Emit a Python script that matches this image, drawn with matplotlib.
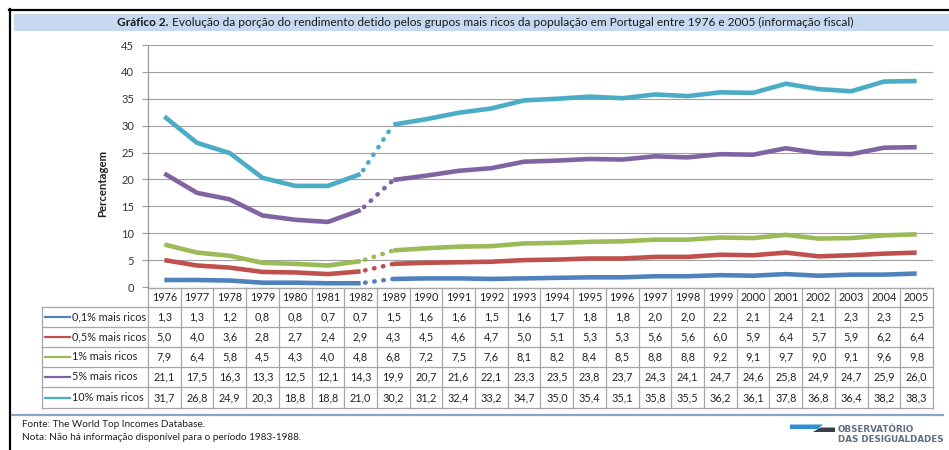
import matplotlib
matplotlib.use("Agg")
import matplotlib.pyplot as plt
from matplotlib.transforms import blended_transform_factory
from matplotlib.patches import Rectangle, Polygon
from matplotlib.lines import Line2D

plt.rcParams['font.family'] = ['Lato', 'DejaVu Sans']

years = ["1976", "1977", "1978", "1979", "1980", "1981", "1982", "1989", "1990", "1991",
         "1992", "1993", "1994", "1995", "1996", "1997", "1998", "1999", "2000", "2001",
         "2002", "2003", "2004", "2005"]
top01 = [1.3, 1.3, 1.2, 0.8, 0.8, 0.7, 0.7, 1.5, 1.6, 1.6, 1.5, 1.6, 1.7, 1.8, 1.8, 2.0,
         2.0, 2.2, 2.1, 2.4, 2.1, 2.3, 2.3, 2.5]
top05 = [5.0, 4.0, 3.6, 2.8, 2.7, 2.4, 2.9, 4.3, 4.5, 4.6, 4.7, 5.0, 5.1, 5.3, 5.3, 5.6,
         5.6, 6.0, 5.9, 6.4, 5.7, 5.9, 6.2, 6.4]
top1 = [7.9, 6.4, 5.8, 4.5, 4.3, 4.0, 4.8, 6.8, 7.2, 7.5, 7.6, 8.1, 8.2, 8.4, 8.5, 8.8,
        8.8, 9.2, 9.1, 9.7, 9.0, 9.1, 9.6, 9.8]
top5 = [21.1, 17.5, 16.3, 13.3, 12.5, 12.1, 14.3, 19.9, 20.7, 21.6, 22.1, 23.3, 23.5, 23.8,
        23.7, 24.3, 24.1, 24.7, 24.6, 25.8, 24.9, 24.7, 25.9, 26.0]
top10 = [31.7, 26.8, 24.9, 20.3, 18.8, 18.8, 21.0, 30.2, 31.2, 32.4, 33.2, 34.7, 35.0, 35.4,
         35.1, 35.8, 35.5, 36.2, 36.1, 37.8, 36.8, 36.4, 38.2, 38.3]
series_labels = ["0,1% mais ricos", "0,5% mais ricos", "1% mais ricos", "5% mais ricos",
                 "10% mais ricos"]
series = [top01, top05, top1, top5, top10]
colors = ["#4f81bd", "#c0504d", "#9bbb59", "#8064a2", "#4bacc6"]
yticks = [0, 5, 10, 15, 20, 25, 30, 35, 40, 45]
gap_index = 6  # last year before the data gap

W, H = 949, 450
def fx(px):
    return px / W
def fy(py):
    return 1 - py / H

fig = plt.figure(figsize=(9.49, 4.5), dpi=100)
fig.patch.set_facecolor("white")

# outer frame & title band
fig.add_artist(Line2D([fx(9), fx(949)], [fy(9.5), fy(9.5)], color="black", lw=1.6))
fig.add_artist(Line2D([fx(9.5), fx(9.5)], [fy(9), fy(450)], color="black", lw=1.6))
fig.add_artist(Rectangle((fx(14), fy(31)), fx(949) - fx(14), fy(14) - fy(31),
                         facecolor="#c6d9f1", edgecolor="none"))

ax = fig.add_axes([fx(148), fy(287), fx(933) - fx(148), fy(45) - fy(287)])
n = len(years)
x = list(range(n))
for vals, c in zip(series, colors):
    ax.plot(x[:gap_index + 1], vals[:gap_index + 1], color=c, lw=3.3,
            solid_capstyle="butt", solid_joinstyle="round", zorder=3)
    ax.plot(x[gap_index + 1:], vals[gap_index + 1:], color=c, lw=3.3,
            solid_capstyle="butt", solid_joinstyle="round", zorder=3)
    ax.plot(x[gap_index:gap_index + 2], vals[gap_index:gap_index + 2], color=c, lw=3.3,
            linestyle=(1.0, (0.1, 1.9)), dash_capstyle="round", zorder=3)

ax.set_xlim(-0.5, n - 0.5)
ax.set_ylim(0, 45)
ax.set_yticks(yticks)
ax.set_yticklabels([str(v) for v in yticks], fontsize=8, color="#333333")
ax.tick_params(axis="y", length=4, color="#9a9a9a", pad=6)
ax.set_xticks([])
ax.grid(axis="y", color="#a0a0a0", lw=0.8)
ax.set_axisbelow(True)
for s in ["top", "right", "bottom"]:
    ax.spines[s].set_visible(False)
ax.spines["left"].set_color("#9a9a9a")
ax.spines["left"].set_linewidth(0.9)
ax.set_ylabel("Percentagem", fontsize=8.2, fontweight="bold", color="#222222")
ax.yaxis.set_label_coords((108 - 148) / 785, (287 - 183) / 242)

# data table aligned with the x categories
tr = blended_transform_factory(ax.transData, fig.transFigure)
grid_c = "#a6a6a6"
row_edges = [288, 307, 327, 347, 367, 387, 408]
for i in range(n + 1):
    ax.plot([i - 0.5, i - 0.5], [fy(row_edges[0]), fy(row_edges[-1])], color=grid_c,
            lw=0.9, transform=tr, clip_on=False)
for j, e in enumerate(row_edges):
    ax.plot([-0.5, n - 0.5], [fy(e), fy(e)], color=grid_c, lw=0.9 if j else 1.0,
            transform=tr, clip_on=False)
    if j >= 1:
        fig.add_artist(Line2D([fx(42), fx(148)], [fy(e), fy(e)], color=grid_c, lw=0.9))
fig.add_artist(Line2D([fx(42), fx(42)], [fy(307), fy(408)], color=grid_c, lw=0.9))

hy = (row_edges[0] + row_edges[1]) / 2
for i, yr in enumerate(years):
    ax.text(i, fy(hy), yr, transform=tr, ha="center", va="center", fontsize=7.8,
            color="#222222")
for r, (vals, c, lab) in enumerate(zip(series, colors, series_labels)):
    cy = (row_edges[r + 1] + row_edges[r + 2]) / 2
    for i, v in enumerate(vals):
        ax.text(i, fy(cy), f"{v:.1f}".replace(".", ","), transform=tr, ha="center",
                va="center", fontsize=7.8, color="#222222")
    fig.add_artist(Line2D([fx(45), fx(70)], [fy(cy), fy(cy)], color=c, lw=1.6))
    fig.text(fx(72), fy(cy), lab, ha="left", va="center", fontsize=7.8, color="#222222")

# title (bold prefix + regular remainder)
renderer = fig.canvas.get_renderer()
t1 = fig.text(0, fy(22.5), "Gráfico 2.", fontsize=8.6, fontweight="bold", va="center",
              color="#1a1a1a")
t2 = fig.text(0, fy(22.5), " Evolução da porção do rendimento detido pelos grupos mais ricos "
              "da população em Portugal entre 1976 e 2005 (informação fiscal)",
              fontsize=8.6, va="center", color="#1a1a1a")
w1 = t1.get_window_extent(renderer).width
w2 = t2.get_window_extent(renderer).width
start = 485 - (w1 + w2) / 2
t1.set_x(fx(start))
t2.set_x(fx(start + w1))

# footer
fig.add_artist(Line2D([fx(12), fx(943)], [fy(414.5), fy(414.5)], color="#8aa4c4", lw=1.6))
fig.text(fx(22), fy(424.5), "Fonte: The World Top Incomes Database.", fontsize=7.2,
         va="center", color="#222222")
fig.text(fx(22), fy(437.5), "Nota: Não há informação disponível para o período 1983-1988.",
         fontsize=7.2, va="center", color="#222222")

# logo
fig.add_artist(Polygon([(fx(790), fy(424.5)), (fx(823), fy(424.5)), (fx(818), fy(429)),
                        (fx(790), fy(429))], closed=True, facecolor="#2e8fd0",
                       edgecolor="none"))
fig.add_artist(Polygon([(fx(823), fy(427.5)), (fx(835), fy(427.5)), (fx(835), fy(432)),
                        (fx(813), fy(432)), (fx(818), fy(429)), (fx(821), fy(427.5))],
                       closed=True, facecolor="#3a3f46", edgecolor="none"))
fig.text(fx(838), fy(430), "OBSERVATÓRIO", fontsize=6.3, fontweight="bold",
         color="#5d6f84", va="center", family="DejaVu Sans")
fig.text(fx(838), fy(440), "DAS DESIGUALDADES", fontsize=6.3, fontweight="bold",
         color="#5d6f84", va="center", family="DejaVu Sans")

fig.savefig("out.png", dpi=100)
